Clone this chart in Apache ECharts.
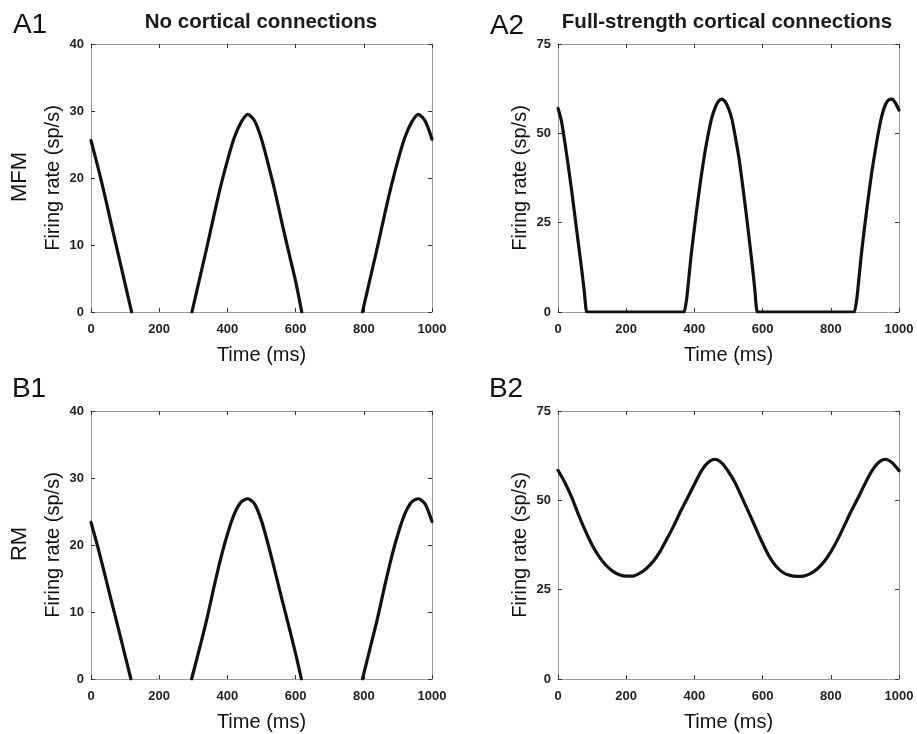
<!DOCTYPE html>
<html>
<head>
<meta charset="utf-8">
<script src="https://cdn.jsdelivr.net/npm/echarts@6/dist/echarts.min.js"></script>
<style>
  html, body { margin: 0; padding: 0; background: #fff; }
  #chart { width: 917px; height: 734px; }
</style>
</head>
<body>
<div id="chart"></div>
<script>
// A1 — MFM, no cortical connections (null = silent, not drawn)
const timeA1 = [0, 20, 40, 60, 80, 100, 119, 200, 296, 320, 340, 360, 380, 400, 420, 440, 460, 480, 500, 520, 540, 560, 580, 600, 618, 700, 796, 820, 840, 860, 880, 900, 920, 940, 960, 980, 1000];
const rateA1 = [25.6, 21.7, 17.5, 13.0, 8.6, 4.2, 0, null, 0, 5.3, 9.7, 14.3, 18.7, 22.6, 26.0, 28.3, 29.5, 28.5, 25.8, 22.0, 17.9, 13.3, 8.9, 4.6, 0, null, 0, 5.3, 9.7, 14.3, 18.7, 22.6, 26.0, 28.3, 29.5, 28.5, 25.8];

// A2 — MFM, full-strength cortical connections (flat at 0 between bursts)
const timeA2 = [0, 10, 20, 30, 40, 50, 60, 70, 77, 84, 86, 200, 371, 373, 377, 380, 390, 400, 410, 420, 430, 440, 450, 460, 470, 480, 490, 500, 510, 520, 530, 540, 550, 560, 570, 577, 584, 586, 700, 870, 872, 876, 880, 890, 900, 910, 920, 930, 940, 950, 960, 970, 980, 990, 1000];
const rateA2 = [57, 53.5, 47.5, 41, 34, 26.5, 19, 11.5, 5.8, 0, 0, 0, 0, 0, 3.4, 6, 15.5, 23.5, 31, 38, 44.2, 49.5, 54, 57, 58.9, 59.6, 58.9, 57, 54, 49, 43.5, 36.5, 29, 21, 12.8, 6.4, 0, 0, 0, 0, 0, 3.5, 7, 16.5, 24.5, 32, 39, 45, 50.5, 55, 58, 59.4, 59.6, 58.4, 56.5];

// B1 — RM, no cortical connections
const timeB1 = [0, 20, 40, 60, 80, 100, 117, 200, 295, 320, 340, 360, 380, 400, 420, 440, 460, 480, 500, 520, 540, 560, 580, 600, 617, 700, 796, 820, 840, 860, 880, 900, 920, 940, 960, 980, 1000];
const rateB1 = [23.4, 19.7, 15.7, 11.6, 7.6, 3.5, 0, null, 0, 4.9, 9.0, 13.6, 17.9, 21.6, 24.6, 26.4, 26.9, 26.1, 23.6, 20.0, 16.0, 11.9, 7.9, 3.8, 0, null, 0, 4.9, 9.0, 13.6, 17.9, 21.6, 24.6, 26.4, 26.9, 26.1, 23.5];

// B2 — RM, full-strength cortical connections
const timeB2 = [0, 20, 40, 60, 80, 100, 120, 140, 160, 180, 200, 220, 240, 260, 280, 300, 320, 340, 360, 380, 400, 420, 440, 460, 480, 500, 520, 540, 560, 580, 600, 620, 640, 660, 680, 700, 720, 740, 760, 780, 800, 820, 840, 860, 880, 900, 920, 940, 960, 980, 1000];
const rateB2 = [58.4, 55, 50.9, 46, 41.5, 37.5, 34.3, 31.9, 30.2, 29.2, 28.8, 28.8, 29.6, 31.0, 33.0, 35.8, 39.3, 43.0, 47.0, 50.7, 54.5, 58.2, 60.6, 61.5, 60.5, 58.0, 54.8, 50.7, 46.5, 42.2, 38, 34.2, 31.5, 29.8, 29.0, 28.7, 28.8, 29.5, 30.8, 32.8, 35.6, 39, 43, 47, 50.7, 54.6, 58.2, 60.6, 61.5, 60.5, 58.3];

const timeTicks = { min: 0, max: 1000, interval: 200 };
const yMaxNoCtx = 40, yStepNoCtx = 10;
const yMaxFull = 75, yStepFull = 25;

const panels = [
  { grid: { left: 91, top: 44, width: 341, height: 268 }, t: timeA1, r: rateA1, ymax: yMaxNoCtx, ystep: yStepNoCtx },
  { grid: { left: 558, top: 44, width: 341, height: 268 }, t: timeA2, r: rateA2, ymax: yMaxFull, ystep: yStepFull },
  { grid: { left: 91, top: 411, width: 341, height: 268 }, t: timeB1, r: rateB1, ymax: yMaxNoCtx, ystep: yStepNoCtx },
  { grid: { left: 558, top: 411, width: 341, height: 268 }, t: timeB2, r: rateB2, ymax: yMaxFull, ystep: yStepFull }
];

const FONT = 'Liberation Sans, Arial, sans-serif';
const frame = { show: true, onZero: false, lineStyle: { color: '#999', width: 1 } };
const tick = { inside: true, length: 4, lineStyle: { color: '#333', width: 1 } };
const tickLabel = { fontFamily: FONT, fontSize: 13, fontWeight: 'bold', color: '#222' };

const grids = [], xAxes = [], yAxes = [], series = [];
panels.forEach((p, i) => {
  grids.push(p.grid);
  xAxes.push({
    type: 'value', gridIndex: i, position: 'bottom', ...timeTicks,
    name: 'Time (ms)', nameLocation: 'middle', nameGap: 33,
    nameTextStyle: { fontFamily: FONT, fontSize: 20, color: '#111' },
    axisLine: frame, axisTick: tick, splitLine: { show: false },
    axisLabel: { ...tickLabel, margin: 11, formatter: v => String(v) }
  });
  xAxes.push({
    type: 'value', gridIndex: i, position: 'top', ...timeTicks,
    axisLine: frame, axisTick: tick, splitLine: { show: false },
    axisLabel: { show: false }
  });
  yAxes.push({
    type: 'value', gridIndex: i, position: 'left', min: 0, max: p.ymax, interval: p.ystep,
    name: 'Firing rate (sp/s)', nameLocation: 'middle', nameGap: 28,
    nameTextStyle: { fontFamily: FONT, fontSize: 20, color: '#111' },
    axisLine: frame, axisTick: tick, splitLine: { show: false },
    axisLabel: { ...tickLabel, margin: 7 }
  });
  yAxes.push({
    type: 'value', gridIndex: i, position: 'right', min: 0, max: p.ymax, interval: p.ystep,
    axisLine: frame, axisTick: tick, splitLine: { show: false },
    axisLabel: { show: false }
  });
  series.push({
    type: 'line', xAxisIndex: i * 2, yAxisIndex: i * 2,
    data: p.t.map((t, k) => [t, p.r[k]]),
    showSymbol: false, smooth: 0.25, connectNulls: false,
    lineStyle: { color: '#111', width: 3.2, cap: 'round', join: 'round' },
    animation: false
  });
});

const text = (str, x, y, font, extra) => Object.assign({
  type: 'text', x, y,
  style: { text: str, fill: '#111', font, align: 'center', verticalAlign: 'middle' }
}, extra || {});

const chart = echarts.init(document.getElementById('chart'), null, { renderer: 'canvas' });
chart.setOption({
  animation: false,
  backgroundColor: '#fff',
  grid: grids,
  xAxis: xAxes,
  yAxis: yAxes,
  series,
  graphic: [
    text('A1', 30, 25, `28px ${FONT}`),
    text('A2', 507, 26, `28px ${FONT}`),
    text('B1', 29, 389, `28px ${FONT}`),
    text('B2', 506, 389, `28px ${FONT}`),
    text('No cortical connections', 261, 22, `bold 20.5px ${FONT}`, { style: { text: 'No cortical connections', fill: '#1a1a1a', font: `bold 20.5px ${FONT}`, align: 'center', verticalAlign: 'middle' } }),
    text('Full-strength cortical connections', 727, 22, `bold 20.5px ${FONT}`, { style: { text: 'Full-strength cortical connections', fill: '#1a1a1a', font: `bold 20.5px ${FONT}`, align: 'center', verticalAlign: 'middle' } }),
    text('MFM', 20, 177, `22px ${FONT}`, { rotation: Math.PI / 2 }),
    text('RM', 20, 544, `22px ${FONT}`, { rotation: Math.PI / 2 })
  ]
});
</script>
</body>
</html>
